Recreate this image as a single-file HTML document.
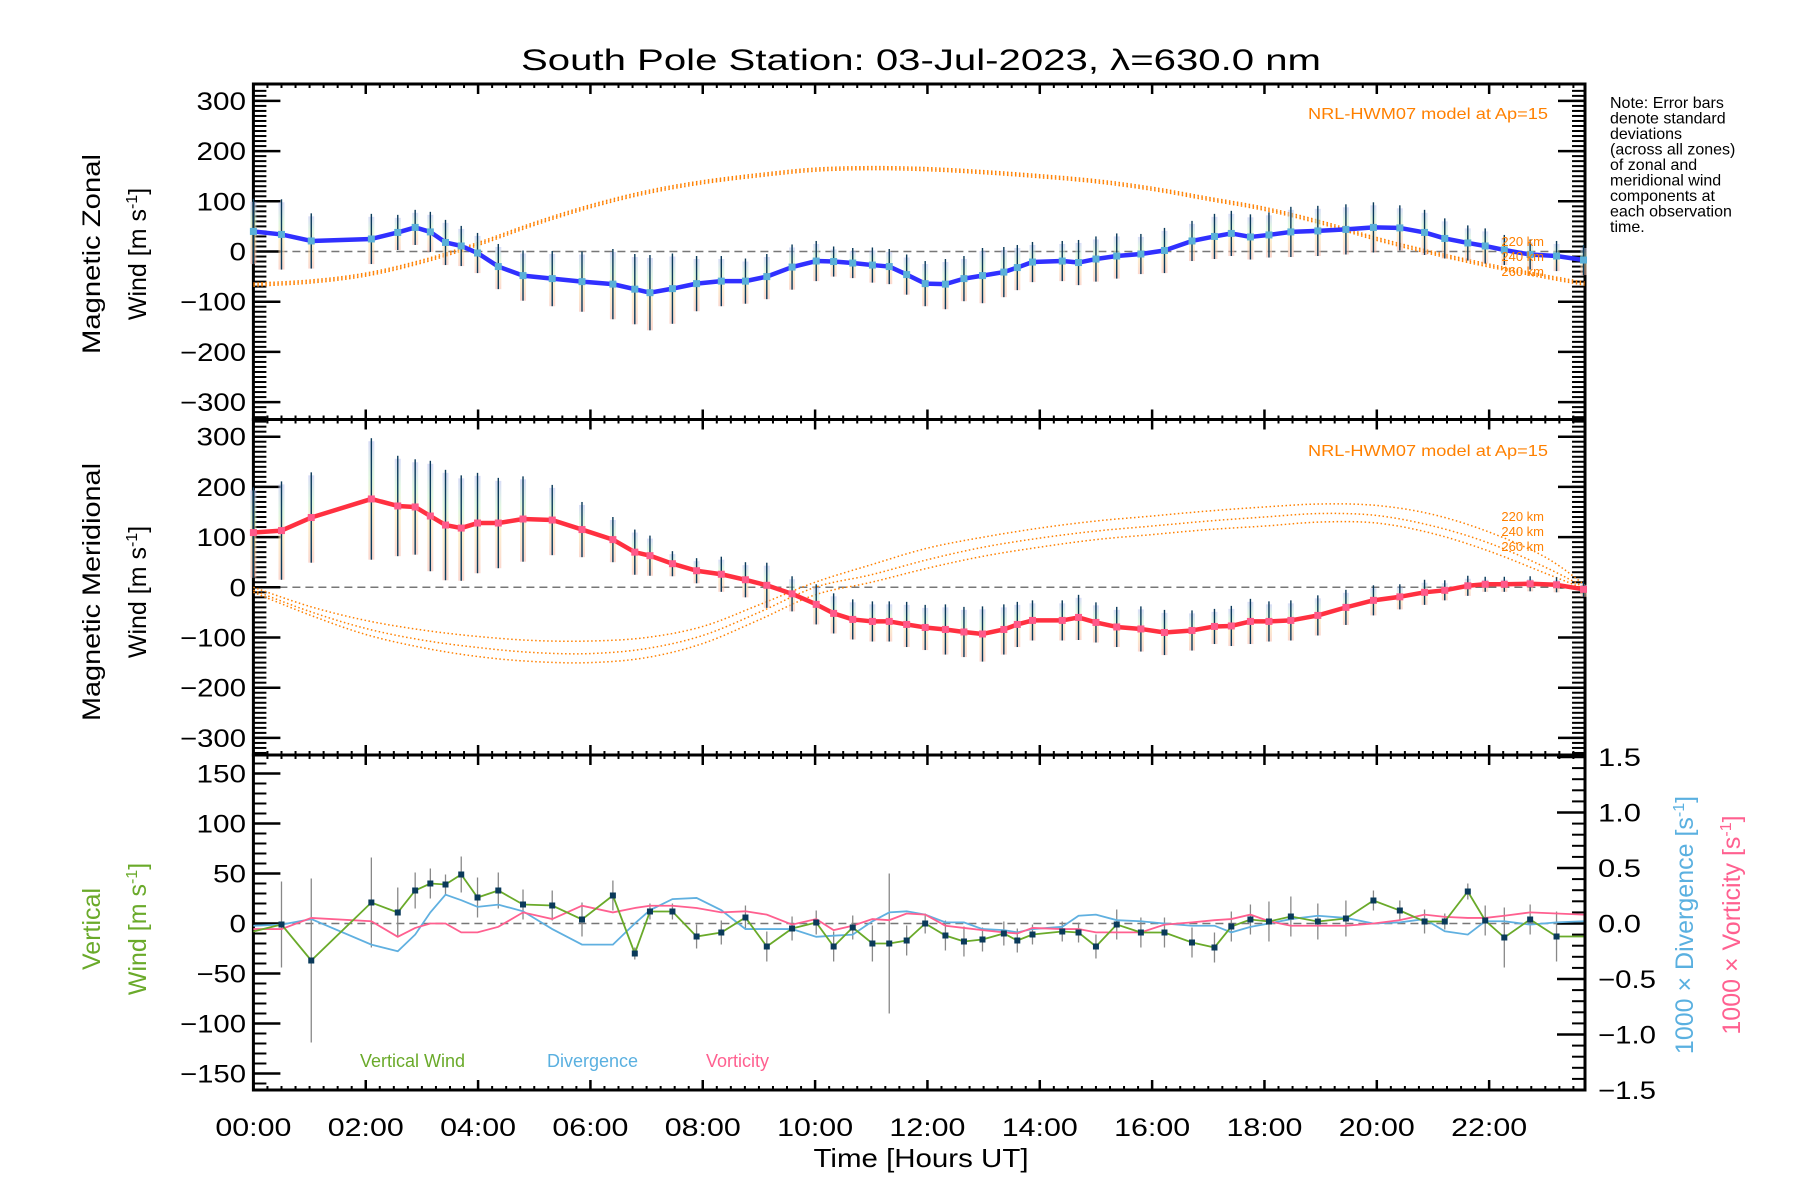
<!DOCTYPE html>
<html><head><meta charset="utf-8"><style>
html,body{margin:0;padding:0;background:#fff;}
svg{display:block;font-family:"Liberation Sans",sans-serif;}
</style></head><body>
<svg id="chart" width="1800" height="1200" viewBox="0 0 1800 1200" xmlns="http://www.w3.org/2000/svg">
<defs>
<linearGradient id="pastel" x1="0" y1="0" x2="0" y2="1">
<stop offset="0" stop-color="#b8c0f0"/><stop offset="0.3" stop-color="#c8f0c8"/><stop offset="0.55" stop-color="#fbe6a8"/><stop offset="1" stop-color="#f8b8a8"/>
</linearGradient>
</defs>
<text x="921" y="70" font-size="30" text-anchor="middle" textLength="800" lengthAdjust="spacingAndGlyphs">South Pole Station: 03-Jul-2023, λ=630.0 nm</text>
<g font-size="16" fill="#000">
<text x="1610" y="108">Note: Error bars</text>
<text x="1610" y="123.5">denote standard</text>
<text x="1610" y="139">deviations</text>
<text x="1610" y="154.5">(across all zones)</text>
<text x="1610" y="170">of zonal and</text>
<text x="1610" y="185.5">meridional wind</text>
<text x="1610" y="201">components at</text>
<text x="1610" y="216.5">each observation</text>
<text x="1610" y="232">time.</text>
</g>
<g id="layer"></g>
<text x="921" y="1167" font-size="26" text-anchor="middle" textLength="215" lengthAdjust="spacingAndGlyphs">Time [Hours UT]</text>
<g font-size="25">
<text transform="translate(100,254) rotate(-90)" text-anchor="middle" textLength="200" lengthAdjust="spacingAndGlyphs">Magnetic Zonal</text>
<text transform="translate(146,254) rotate(-90)" text-anchor="middle">Wind [m s<tspan dy="-9" font-size="16">-1</tspan><tspan dy="9">]</tspan></text>
</g>
<g font-size="25">
<text transform="translate(100,592) rotate(-90)" text-anchor="middle" textLength="258" lengthAdjust="spacingAndGlyphs">Magnetic Meridional</text>
<text transform="translate(146,592) rotate(-90)" text-anchor="middle">Wind [m s<tspan dy="-9" font-size="16">-1</tspan><tspan dy="9">]</tspan></text>
</g>
<g font-size="25" fill="#6aaa2a">
<text transform="translate(100,929) rotate(-90)" text-anchor="middle">Vertical</text>
<text transform="translate(146,929) rotate(-90)" text-anchor="middle">Wind [m s<tspan dy="-9" font-size="16">-1</tspan><tspan dy="9">]</tspan></text>
</g>
<text transform="translate(1693,925) rotate(-90)" text-anchor="middle" font-size="25" fill="#5ab0e0">1000 × Divergence [s<tspan dy="-9" font-size="16">-1</tspan><tspan dy="9">]</tspan></text>
<text transform="translate(1740,925) rotate(-90)" text-anchor="middle" font-size="25" fill="#ff6090">1000 × Vorticity [s<tspan dy="-9" font-size="16">-1</tspan><tspan dy="9">]</tspan></text>
<text x="360" y="1067" font-size="18" fill="#6aaa2a">Vertical Wind</text>
<text x="547" y="1067" font-size="18" fill="#5ab0e0">Divergence</text>
<text x="706" y="1067" font-size="18" fill="#ff6090">Vorticity</text>
</svg>
<script>
const times = [0,0.5,1.03,2.1,2.57,2.88,3.15,3.42,3.7,3.99,4.36,4.8,5.32,5.85,6.4,6.79,7.06,7.46,7.89,8.33,8.76,9.14,9.59,10.02,
10.33,10.67,11.02,11.32,11.63,11.96,12.32,12.65,12.98,13.36,13.6,13.87,14.4,14.69,15.0,15.37,15.8,16.22,16.71,17.11,17.41,17.75,18.08,18.47,18.95,19.45,19.94,20.41,20.85,21.21,21.62,21.93,22.27,22.73,23.2,23.68];
const zonal = [40,34,21,25,38,48,39,18,11,-3,-30,-48,-54,-60,-65,-75,-82,-74,-64,-59,-59,-50,-31,-19,
-20,-23,-27,-30,-46,-64,-65,-54,-48,-41,-32,-21,-19,-22,-15,-9,-5,2,21,30,36,29,33,39,41,44,48,47,38,26,17,11,3,-6,-9,-17];
const zonalSigma = [65,70,55,50,35,35,40,45,40,40,45,50,55,60,70,70,75,70,55,50,45,45,45,40,
30,30,35,35,40,45,50,45,55,50,45,40,40,45,45,45,40,45,40,45,45,45,45,50,50,50,50,45,45,40,35,35,30,30,30,30];
const merid = [109,113,139,176,162,160,142,124,118,128,128,136,134,115,95,70,63,47,33,26,15,4,-13,-34,
-52,-64,-68,-68,-74,-80,-84,-89,-93,-84,-74,-66,-66,-60,-70,-79,-83,-90,-86,-78,-77,-68,-68,-66,-56,-40,-26,-19,-10,-6,3,6,6,7,5,-4];
const meridSigma = [90,98,90,121,100,95,110,110,105,100,90,85,70,55,45,45,40,25,25,35,35,45,35,40,
40,40,40,40,45,45,50,50,55,50,45,40,40,45,40,40,45,45,40,35,40,45,40,40,40,35,30,25,25,20,20,15,15,15,15,15];
const vert = [-8,-1,-37,21,11,33,40,39,49,26,33,19,18,4,28,-30,12,12,-13,-9,6,-23,-5,1,
-23,-4,-20,-20,-17,0,-12,-18,-16,-10,-17,-11,-8,-9,-23,-1,-9,-9,-19,-24,-3,4,2,7,2,5,23,13,2,2,32,3,-14,4,-13,-13];
const vertSigma = [0,43,82,45,25,18,15,10,18,20,18,15,15,17,15,6,8,8,12,12,12,15,12,12,
15,12,18,70,15,10,15,15,12,12,12,10,10,10,12,15,15,15,15,15,15,15,20,20,18,18,10,10,12,8,8,15,30,15,25,0];
const divergence = [-0.02,-0.01,0.04,-0.19,-0.25,-0.1,0.1,0.26,0.21,0.15,0.17,0.11,-0.05,-0.19,-0.19,0,0.12,0.22,0.23,0.12,-0.05,-0.05,-0.05,-0.12,
-0.11,-0.1,0.02,0.1,0.11,0.08,0.01,0.01,-0.05,-0.06,-0.08,-0.05,-0.03,0.07,0.08,0.03,0.02,0,-0.02,-0.02,-0.08,-0.03,0,0.04,0.07,0.05,0,0.01,0.04,-0.07,-0.1,0.02,0.02,-0.01,0.01,0.02];
const vorticity = [-0.05,-0.05,0.05,0.02,-0.12,-0.04,0,0,-0.08,-0.08,-0.03,0.1,0.04,0.16,0.1,0.14,0.16,0.16,0.14,0.1,0.11,0.08,-0.01,0.04,
-0.06,-0.02,0.04,0.03,0.09,0.08,-0.02,-0.04,-0.06,-0.08,-0.09,-0.04,-0.05,-0.05,-0.08,-0.08,-0.08,-0.01,0.01,0.03,0.04,0.08,0.02,-0.02,-0.02,-0.02,0,0.03,0.08,0.06,0.05,0.05,0.07,0.1,0.09,0.08];
const modelHours = [0,1,2,3,4,5,6,7,8,9,10,11,12,13,14,15,16,17,18,19,20,21,22,23,23.7];
const zonalModel220 = [-63,-57,-43,-17,18,58,93,121,141,155,166,169,167,161,153,143,128,108,88,61,28,0,-25,-47,-61];
const zonalModel240 = [-66,-60,-46,-20,15,55,90,118,138,152,163,166,164,158,150,140,125,105,85,58,25,-3,-28,-50,-64];
const zonalModel260 = [-69,-63,-49,-23,12,52,87,115,135,149,160,163,161,155,147,137,122,102,82,55,22,-6,-31,-53,-67];
const meridModel220 = [0,-38,-66,-85,-98,-106,-107,-100,-78,-35,10,45,78,100,118,132,142,152,160,166,163,145,110,60,5];
const meridModel240 = [-6,-48,-82,-105,-120,-130,-132,-122,-96,-50,0,25,55,80,98,112,122,132,140,147,143,122,88,40,0];
const meridModel260 = [-10,-55,-94,-120,-138,-148,-150,-140,-112,-65,-15,10,38,62,80,95,105,115,122,130,128,107,72,28,-3];
const xTickLabels = ["00:00","02:00","04:00","06:00","08:00","10:00","12:00","14:00","16:00","18:00","20:00","22:00"];
const windTicks = [-300,-200,-100,0,100,200,300];
const vertTicks = [-150,-100,-50,0,50,100,150];
const rightTicks = [-1.5,-1.0,-0.5,0.0,0.5,1.0,1.5];

const NS="http://www.w3.org/2000/svg";
const layer=document.getElementById('layer');
const XL=253.4, XR=1585, PXH=56.17;
function X(t){return XL+t*PXH;}
const P1={T:84,B:419.5,Z:251.5,k:0.502};
const P2={T:419.5,B:755,Z:587.3,k:0.502};
const P3={T:755,B:1090,Z:923.5,k:1.0,kr:111};
function Y(p,v){return p.Z-v*p.k;}
function YR(v){return P3.Z-v*P3.kr;}
function mk(tag,attrs,parent){const e=document.createElementNS(NS,tag);for(const a in attrs)e.setAttribute(a,attrs[a]);(parent||layer).appendChild(e);return e;}
function smoothPath(pts){let d="M"+pts[0][0]+","+pts[0][1];for(let i=0;i<pts.length-1;i++){const p0=pts[Math.max(0,i-1)],p1=pts[i],p2=pts[i+1],p3=pts[Math.min(pts.length-1,i+2)];const c1x=p1[0]+(p2[0]-p0[0])/6,c1y=p1[1]+(p2[1]-p0[1])/6,c2x=p2[0]-(p3[0]-p1[0])/6,c2y=p2[1]-(p3[1]-p1[1])/6;d+=" C"+c1x+","+c1y+" "+c2x+","+c2y+" "+p2[0]+","+p2[1];}return d;}

function panelFrame(p,name,ticks){
  const g=mk('g',{});
  
  
  const z=mk('line',{x1:XL,x2:XR,y1:p.Z,y2:p.Z,stroke:'#777','stroke-width':1.5,'stroke-dasharray':'8 5'},g);
  
  
  const step=10;
  const lo=Math.ceil((p.Z-p.B)/p.k/step)*step, hi=Math.floor((p.Z-p.T)/p.k/step)*step;
  for(let v=lo;v<=hi;v+=step){const y=Y(p,v);if(y<p.T+2||y>p.B-2)continue;mk('line',{x1:XL,x2:XL+13,y1:y,y2:y,stroke:'#000','stroke-width':2},g);if(p!==P3)mk('line',{x1:XR-13,x2:XR,y1:y,y2:y,stroke:'#000','stroke-width':2},g);}
  for(const v of ticks){const y=Y(p,v);mk('line',{x1:XL,x2:XL+27,y1:y,y2:y,stroke:'#000','stroke-width':2.5},g);if(p!==P3)mk('line',{x1:XR-27,x2:XR,y1:y,y2:y,stroke:'#000','stroke-width':2.5},g);
    const t=mk('text',{x:246,y:y+9,'font-size':25,'text-anchor':'end',textLength:(String(v).length*16.5),lengthAdjust:'spacingAndGlyphs'},g);t.textContent=(v<0?'\u2212'+(-v):String(v));
    
    }
  for(let h=0;h<=23.71;h+=0.25){const x=X(h);const maj=Math.abs(h%2)<1e-6;const L=maj?10:4;mk('line',{x1:x,x2:x,y1:p.B,y2:p.B-L,stroke:'#000','stroke-width':maj?2.5:2},g);mk('line',{x1:x,x2:x,y1:p.T,y2:p.T+L,stroke:'#000','stroke-width':maj?2.5:2},g);}
  const r=mk('rect',{x:XL,y:p.T,width:XR-XL,height:p.B-p.T,fill:'none',stroke:'#000','stroke-width':3},g);
  
  
}

function modelLines(p,arrs,name){
  arrs.forEach((arr)=>{const pts=modelHours.map((h,j)=>[X(h),Y(p,arr[j])]);
    const e=mk('path',{d:smoothPath(pts),fill:'none',stroke:'#ff8000','stroke-width':1.5,'stroke-dasharray':'1.5 2.5'});
    
    });
}

function windSeries(p,vals,sig,color,mcolor,name){
  for(let i=0;i<times.length;i++){const x=X(times[i]);const y1=Y(p,vals[i]+sig[i]),y2=Y(p,vals[i]-sig[i]);
    const top=Math.max(p.T,y1+3), bot=Math.min(p.B,y2);
    const pb=mk('rect',{x:x-3,y:top,width:6,height:Math.max(0,bot-top),fill:'url(#pastel)',opacity:0.55});
    
    
    const eb=mk('line',{x1:x,x2:x,y1:Math.max(p.T,y1),y2:Math.min(p.B,y2),stroke:'#0a3a5a','stroke-width':1.4});
    
    }
  const pts=times.map((t,i)=>X(t)+','+Y(p,vals[i])).join(' ');
  const l=mk('polyline',{points:pts,fill:'none',stroke:color,'stroke-width':4.5,'stroke-linejoin':'round'});
  
  
  for(let i=0;i<times.length;i++){const m=mk('rect',{x:X(times[i])-3.5,y:Y(p,vals[i])-3.5,width:7,height:7,fill:mcolor});
    
    }
}

panelFrame(P1,'zonal',windTicks);
panelFrame(P2,'meridional',windTicks);
panelFrame(P3,'vertical',vertTicks);

modelLines(P1,[zonalModel220,zonalModel240,zonalModel260],'zonal');
modelLines(P2,[meridModel220,meridModel240,meridModel260],'meridional');
windSeries(P1,zonal,zonalSigma,'#3030ff','#5ab0d8','zonal-wind');
windSeries(P2,merid,meridSigma,'#ff3040','#ff5a8a','meridional-wind');

[[P1,113,[241,256,271]],[P2,450,[516,531,546]]].forEach(([p,ty,ky])=>{
  const t=mk('text',{x:1548,y:ty+6,'font-size':16,'text-anchor':'end',fill:'#ff8000',textLength:240,lengthAdjust:'spacingAndGlyphs'});t.textContent='NRL-HWM07 model at Ap=15';
  
  
  ['220 km','240 km','260 km'].forEach((s,j)=>{const e=mk('text',{x:1544,y:ky[j]+5,'font-size':13,'text-anchor':'end',fill:'#ff8000'});e.textContent=s;
    
    });
});

for(let v=-1.5;v<=1.501;v+=0.1){const y=YR(v);const maj=Math.abs(Math.round(v*10)%5)===0;mk('line',{x1:XR-(maj?28:13),x2:XR,y1:y,y2:y,stroke:'#000','stroke-width':maj?2.5:2});}
for(const v of rightTicks){const t=mk('text',{x:1598,y:YR(v)+9,'font-size':25,textLength:(v<0?58:43),lengthAdjust:'spacingAndGlyphs'});t.textContent=(v<0?'\u2212':'')+Math.abs(v).toFixed(1);
  
  }

for(let i=0;i<times.length;i++){if(!vertSigma[i])continue;const x=X(times[i]);
  const e=mk('line',{x1:x,x2:x,y1:Math.max(P3.T,Y(P3,vert[i]+vertSigma[i])),y2:Math.min(P3.B,Y(P3,vert[i]-vertSigma[i])),stroke:'#888','stroke-width':1.3});
  
  }
const dl=mk('polyline',{points:times.map((t,i)=>X(t)+','+YR(divergence[i])).join(' '),fill:'none',stroke:'#60b0e0','stroke-width':1.8});


const vl=mk('polyline',{points:times.map((t,i)=>X(t)+','+YR(vorticity[i])).join(' '),fill:'none',stroke:'#ff6090','stroke-width':1.8});


const gl=mk('polyline',{points:times.map((t,i)=>X(t)+','+Y(P3,vert[i])).join(' '),fill:'none',stroke:'#6aaa2a','stroke-width':1.8});


for(let i=1;i<times.length-1;i++){const m=mk('rect',{x:X(times[i])-3,y:Y(P3,vert[i])-3,width:6,height:6,fill:'#0a3a5a'});
  
  }

xTickLabels.forEach((s,i)=>{const t=mk('text',{x:X(i*2),y:1136,'font-size':25,'text-anchor':'middle',textLength:76,lengthAdjust:'spacingAndGlyphs'});t.textContent=s;
  
  });
</script>
</body></html>
